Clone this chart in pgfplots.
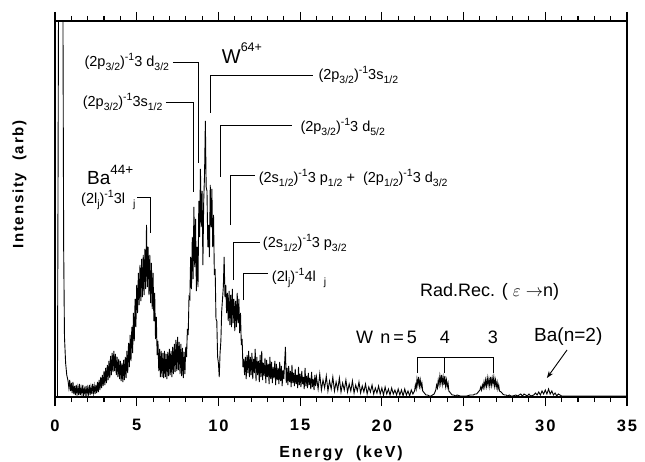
\documentclass[border=0pt]{standalone}
\usepackage{fontspec}
\setmainfont{Liberation Sans}
\newfontfamily\spaced[LetterSpace=12]{Liberation Sans}
\usepackage{pgfplots}
\pgfplotsset{compat=1.18}
\usetikzlibrary{arrows.meta}

% sub- and superscripts as in the scanned labels
\newcommand\sub[1]{\raisebox{-0.55ex}{\fontsize{10.5}{10.5}\selectfont #1}}
\newcommand\sups[1]{\raisebox{0.85ex}{\fontsize{10.5}{10.5}\selectfont #1}}

\begin{document}
\begin{tikzpicture}
\begin{axis}[
  scale only axis, width=572pt, height=376pt,
  xmin=0, xmax=35, ymin=0, ymax=376,
  xtick={0,5,...,35}, minor x tick num=4, ytick=\empty,
  tick align=outside, major tick length=9pt, minor tick length=5pt,
  axis line style={line width=1.1pt}, every tick/.style={line width=1.1pt, black},
  /pgf/number format/assume math mode=true,
  xticklabel style={font=\spaced\bfseries\fontsize{16.5}{16.5}\selectfont, yshift=-10pt},
  xlabel={Energy\ \ (keV)},
  xlabel style={font=\spaced\bfseries\fontsize{16}{16}\selectfont, yshift=-8pt},
  ylabel={Intensity\ \ (arb)},
  ylabel style={font=\spaced\bfseries\fontsize{15}{15}\selectfont,
    at={(axis description cs:-0.062,0.565)}, anchor=center},
]
\addplot[black, line width=0.9pt] coordinates {
(0.00,0)(0.15,0)(0.22,420)(0.48,420)(0.53,150)(0.58,60)(0.65,34)(0.72,22)
(0.80,16)(0.85,9)(0.90,17)(0.95,6)(1.00,14)(1.05,4)(1.10,15)(1.15,3)(1.20,11)(1.25,2)
(1.30,12)(1.35,3)(1.40,10)(1.45,2)(1.50,13)(1.55,2)(1.60,9)(1.65,3)(1.70,12)(1.75,2)
(1.80,8)(1.85,3)(1.90,11)(1.95,2)(2.00,9)(2.05,3)(2.10,12)(2.15,2)(2.20,10)(2.25,3)
(2.30,13)(2.35,4)(2.40,11)(2.45,3)(2.50,12)(2.55,4)(2.60,15)(2.65,5)(2.70,17)
(2.75,7)(2.80,20)(2.85,9)(2.90,22)(2.95,11)(3.00,26)(3.05,12)(3.10,29)(3.15,14)
(3.20,32)(3.25,17)(3.30,36)(3.35,19)(3.40,41)(3.45,22)(3.50,44)(3.55,25)(3.60,46)
(3.65,26)(3.70,43)(3.75,22)(3.80,40)(3.85,20)(3.90,38)(3.95,18)(4.00,36)(4.05,16)
(4.10,34)(4.15,15)(4.20,37)(4.25,17)(4.30,40)(4.35,19)(4.40,46)(4.45,24)(4.50,54)
(4.55,30)(4.60,62)(4.65,36)(4.70,70)(4.75,44)(4.80,84)(4.85,56)(4.90,98)(4.95,70)
(5.00,112)(5.05,84)(5.10,124)(5.15,92)(5.20,132)(5.25,96)(5.30,138)(5.35,100)
(5.40,142)(5.45,102)(5.50,148)(5.55,108)(5.60,172)(5.65,110)(5.70,150)(5.75,102)
(5.80,142)(5.85,94)(5.90,134)(5.95,88)(6.00,124)(6.05,76)(6.10,104)(6.15,58)
(6.20,80)(6.25,42)(6.30,56)(6.35,26)(6.40,48)(6.45,20)(6.50,46)(6.55,20)(6.60,44)
(6.65,19)(6.70,46)(6.75,20)(6.80,43)(6.85,18)(6.90,45)(6.95,21)(7.00,48)(7.05,22)
(7.10,46)(7.15,20)(7.20,50)(7.25,23)(7.30,53)(7.35,25)(7.40,57)(7.45,26)(7.50,60)
(7.55,27)(7.60,55)(7.65,23)(7.70,53)(7.75,21)(7.80,49)(7.85,19)(7.90,45)(7.95,23)
(8.00,50)(8.05,40)(8.10,68)(8.15,62)(8.20,100)(8.25,98)(8.30,140)(8.35,108)
(8.40,160)(8.45,118)(8.50,190)(8.55,130)(8.60,178)(8.65,106)(8.70,150)(8.75,110)
(8.80,196)(8.85,160)(8.90,228)(8.95,170)(9.00,206)(9.05,132)(9.10,196)(9.15,222)
(9.20,276)(9.25,210)(9.30,206)(9.35,150)(9.40,172)(9.45,140)(9.50,212)(9.55,170)
(9.60,208)(9.65,150)(9.70,182)(9.75,122)(9.80,128)(9.85,78)(9.90,76)(9.95,40)
(10.00,34)(10.05,20)(10.10,44)(10.15,56)(10.20,86)(10.25,98)(10.30,110)(10.35,140)
(10.40,100)(10.45,112)(10.50,84)(10.55,104)(10.60,76)(10.65,106)(10.70,72)(10.75,102)
(10.80,70)(10.85,108)(10.90,74)(10.95,98)(11.00,66)(11.05,96)(11.10,70)(11.15,104)
(11.20,74)(11.25,98)(11.30,64)(11.35,84)(11.40,52)(11.45,58)(11.50,30)(11.55,38)
(11.60,22)(11.65,40)(11.70,18)(11.75,42)(11.80,24)(11.85,46)(11.90,20)(11.95,40)
(12.00,22)(12.05,44)(12.10,18)(12.15,38)(12.20,24)(12.25,48)(12.30,16)(12.35,40)
(12.40,22)(12.45,36)(12.50,15)(12.55,42)(12.60,20)(12.65,46)(12.70,17)(12.75,34)
(12.80,21)(12.85,39)(12.90,14)(12.95,37)(13.00,20)(13.05,33)(13.10,13)(13.15,40)
(13.20,18)(13.25,35)(13.30,14)(13.35,30)(13.40,19)(13.45,36)(13.50,12)(13.55,33)
(13.60,17)(13.65,29)(13.70,13)(13.75,35)(13.80,16)(13.85,31)(13.90,11)(13.95,27)
(14.00,18)(14.05,34)(14.10,50)(14.15,14)(14.20,29)(14.25,12)(14.30,31)(14.35,15)
(14.40,26)(14.45,10)(14.50,32)(14.55,14)(14.60,24)(14.65,11)(14.70,28)(14.75,13)
(14.80,22)(14.85,9)(14.90,30)(14.95,12)(15.00,23)(15.05,10)(15.10,26)(15.15,13)
(15.20,20)(15.25,8)(15.30,29)(15.35,11)(15.40,21)(15.45,9)(15.50,24)(15.55,12)
(15.60,19)(15.65,8)(15.70,25)(15.75,10)(15.80,18)(15.85,7)(15.90,22)(15.95,11)
(16.0,20)(16.1,8)(16.2,23)(16.3,7)(16.4,17)(16.5,9)(16.6,21)(16.7,6)(16.8,16)
(16.9,8)(17.0,20)(17.1,6)(17.2,15)(17.3,7)(17.4,19)(17.5,5)(17.6,14)(17.7,7)
(17.8,17)(17.9,5)(18.0,13)(18.1,6)(18.2,16)(18.3,4)(18.4,12)(18.5,6)(18.6,15)
(18.7,4)(18.8,11)(18.9,5)(19.0,13)(19.1,3)(19.2,10)(19.3,5)(19.4,12)(19.5,3)
(19.6,9)(19.7,4)(19.8,11)(19.9,3)(20.0,9)(20.1,2)(20.2,10)(20.3,3)(20.4,8)(20.5,2)
(20.6,9)(20.7,3)(20.8,7)(20.9,2)(21.0,8)(21.1,2)(21.2,7)(21.3,1)(21.4,8)(21.5,2)
(21.6,6)(21.7,1)(21.8,7)(21.9,3)(22.0,6)(22.05,12)(22.1,8)(22.15,18)(22.2,12)
(22.25,20)(22.3,11)(22.35,17)(22.4,10)(22.45,14)(22.5,6)(22.6,4)(22.7,2)(22.8,2)
(22.9,1)(23.0,1)(23.1,2)(23.2,3)(23.3,7)(23.35,12)(23.4,9)(23.45,17)(23.5,12)
(23.55,21)(23.6,14)(23.65,22)(23.7,13)(23.75,20)(23.8,12)(23.85,21)(23.9,11)
(23.95,17)(24.0,10)(24.05,14)(24.1,6)(24.2,4)(24.3,2)(24.4,2)(24.5,1)(24.6,2)
(24.8,1)(25.0,1)(25.2,1)(25.4,2)(25.6,2)(25.7,3)(25.8,3)(25.9,5)(26.0,7)
(26.05,10)(26.1,7)(26.15,12)(26.2,9)(26.25,15)(26.3,10)(26.35,17)(26.4,11)
(26.45,19)(26.5,12)(26.55,18)(26.6,11)(26.65,20)(26.7,12)(26.75,19)(26.8,13)
(26.85,20)(26.9,11)(26.95,17)(27.0,10)(27.05,15)(27.1,8)(27.15,12)(27.2,6)
(27.3,5)(27.4,3)(27.5,2)(27.6,2)(27.7,1)(27.8,2)(27.9,1)(28.0,1)(28.2,2)(28.3,1)
(28.5,3)(28.6,1)(28.7,3)(28.9,1)(29.0,3)(29.1,1)(29.3,2)(29.4,4)(29.5,2)(29.6,5)
(29.7,2)(29.8,6)(29.9,3)(30.0,7)(30.1,3)(30.2,8)(30.3,3)(30.4,6)(30.5,2)(30.6,4)
(30.7,1)(30.8,3)(31.0,1)(31.5,1)(32.0,1)(33.0,1)(34.0,1)(35.0,1)};

% W lines
\draw[line width=0.8pt] (axis cs:7.22,335) -- (axis cs:8.75,335) -- (axis cs:8.75,234);
\node[anchor=east, inner sep=1pt, font=\fontsize{14.5}{14.5}\selectfont] at (axis cs:7.05,335)
  {(2p\sub{3/2})\sups{-1}3 d\sub{3/2}};
\draw[line width=0.8pt] (axis cs:6.79,295) -- (axis cs:8.44,295) -- (axis cs:8.44,205);
\node[anchor=east, inner sep=1pt, font=\fontsize{14.5}{14.5}\selectfont] at (axis cs:6.65,295)
  {(2p\sub{3/2})\sups{-1}3s\sub{1/2}};
\node[anchor=west, inner sep=0pt, font=\fontsize{20}{20}\selectfont] at (axis cs:10.2,344)
  {W\raisebox{1.1ex}{\fontsize{12.5}{12.5}\selectfont 64+}};
\draw[line width=0.8pt] (axis cs:9.48,284) -- (axis cs:9.48,322) -- (axis cs:15.79,322);
\node[anchor=west, inner sep=1pt, font=\fontsize{14.5}{14.5}\selectfont] at (axis cs:16.05,322)
  {(2p\sub{3/2})\sups{-1}3s\sub{1/2}};
\draw[line width=0.8pt] (axis cs:10.10,220) -- (axis cs:10.10,272) -- (axis cs:14.50,272);
\node[anchor=west, inner sep=1pt, font=\fontsize{14.5}{14.5}\selectfont] at (axis cs:14.95,270)
  {(2p\sub{3/2})\sups{-1}3 d\sub{5/2}};
\draw[line width=0.8pt] (axis cs:10.71,172) -- (axis cs:10.71,222) -- (axis cs:12.24,222);
\node[anchor=west, inner sep=1pt, font=\fontsize{14.5}{14.5}\selectfont] at (axis cs:12.40,219)
  {(2s\sub{1/2})\sups{-1}3 p\sub{1/2} + \ (2p\sub{1/2})\sups{-1}3 d\sub{3/2}};
\draw[line width=0.8pt] (axis cs:10.89,117) -- (axis cs:10.89,155) -- (axis cs:12.54,155);
\node[anchor=west, inner sep=1pt, font=\fontsize{14.5}{14.5}\selectfont] at (axis cs:12.65,154)
  {(2s\sub{1/2})\sups{-1}3 p\sub{3/2}};
\draw[line width=0.8pt] (axis cs:11.50,97) -- (axis cs:11.50,124) -- (axis cs:13.03,124);
\node[anchor=west, inner sep=1pt, font=\fontsize{14.5}{14.5}\selectfont] at (axis cs:13.20,119)
  {(2l\sub{j})\sups{-1}4l\ \ \sub{j}};

% Ba lines
\node[anchor=west, inner sep=0pt, font=\fontsize{19}{19}\selectfont] at (axis cs:1.96,222)
  {Ba\raisebox{1.0ex}{\fontsize{13.5}{13.5}\selectfont 44+}};
\draw[line width=0.8pt] (axis cs:5.02,200) -- (axis cs:5.81,200) -- (axis cs:5.81,164);
\node[anchor=west, inner sep=0pt, font=\fontsize{14.5}{14.5}\selectfont] at (axis cs:1.59,197)
  {(2l\sub{j})\sups{-1}3l\ \ \sub{j}};

% radiative recombination
\node[anchor=west, inner sep=0pt, font=\fontsize{18}{18}\selectfont] at (axis cs:22.33,105)
  {Rad.Rec. ( $\varepsilon$ $\rightarrow$n)};
\node[anchor=west, inner sep=0pt, font=\fontsize{18}{18}\selectfont] at (axis cs:18.42,60) {W};
\node[anchor=west, inner sep=0pt, font=\fontsize{18}{18}\selectfont] at (axis cs:19.89,60) {n\,=\,5};
\node[inner sep=0pt, font=\fontsize{18}{18}\selectfont] at (axis cs:23.86,60) {4};
\node[inner sep=0pt, font=\fontsize{18}{18}\selectfont] at (axis cs:26.80,60) {3};
\draw[line width=0.8pt] (axis cs:22.2,24) -- (axis cs:22.2,40) -- (axis cs:26.85,40) -- (axis cs:26.85,24);
\draw[line width=0.8pt] (axis cs:23.8,40) -- (axis cs:23.8,24);
\node[anchor=west, inner sep=0pt, font=\fontsize{19}{19}\selectfont] at (axis cs:29.31,60) {Ba(n=2)};
\draw[line width=0.9pt, -{Stealth[length=7pt,width=5pt]}] (axis cs:31.33,47) -- (axis cs:30.10,19);
\end{axis}
\pgfresetboundingbox
\path ([xshift=-55pt,yshift=-64pt]current axis.south west) rectangle ([xshift=18pt,yshift=21pt]current axis.north east);
\end{tikzpicture}
\end{document}
